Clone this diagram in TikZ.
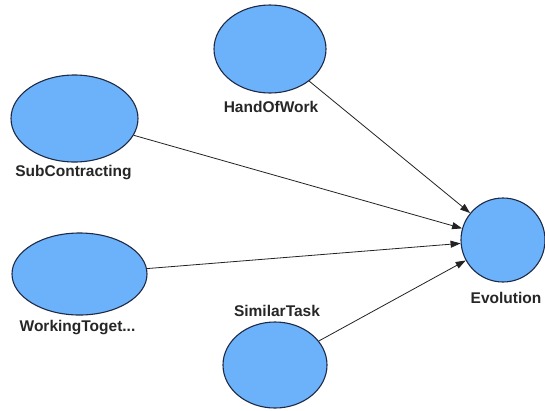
\documentclass[tikz,border=0pt]{standalone}
\usepackage{fontspec}
\setmainfont{Liberation Sans}
\usetikzlibrary{shapes.geometric,arrows.meta}
\definecolor{nodefill}{RGB}{108,178,250}
\definecolor{nodeline}{RGB}{30,42,70}
\definecolor{edgeline}{RGB}{35,35,35}
\tikzset{
  blob/.style={ellipse, draw=nodeline, fill=nodefill, line width=1.1pt, inner sep=0pt},
  tag/.style={font=\fontsize{15.5}{18}\selectfont\bfseries, text=black!85, inner sep=0pt},
  link/.style={draw=edgeline, line width=0.8pt, -{Triangle[length=10pt,width=7pt]}}
}
\begin{document}
\begin{tikzpicture}[x=1pt,y=-1pt]
  \useasboundingbox[fill=white] (0,0) rectangle (545,410);

  % variables
  \node[blob, minimum width=112pt, minimum height=88pt] (how) at (270,49) {};
  \node[blob, minimum width=127pt, minimum height=87pt] (sub) at (74.5,118.5) {};
  \node[blob, minimum width=135pt, minimum height=82pt] (wt) at (79.5,274) {};
  \node[blob, minimum width=104pt, minimum height=86pt] (sim) at (275,365) {};
  \node[blob, minimum width=84pt, minimum height=84pt] (evo) at (503,240) {};

  % captions
  \node[tag] (howl) at (271,107) {HandOfWork};
  \node[tag] (subl) at (73.5,173) {SubContracting};
  \node[tag] (wtl) at (77.5,328) {WorkingToget...};
  \node[tag] (siml) at (277,311) {SimilarTask};
  \node[tag] (evol) at (506,298) {Evolution};

  % influences
  \draw[link] (how) -- (evo);
  \draw[link] (sub) -- (evo);
  \draw[link] (wt) -- (evo);
  \draw[link] (sim) -- (evo);
\end{tikzpicture}
\end{document}
